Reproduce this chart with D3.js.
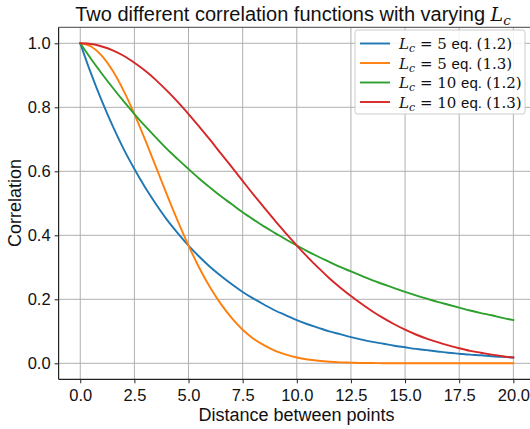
<!DOCTYPE html>
<html>
<head>
<meta charset="utf-8">
<script src="https://cdn.jsdelivr.net/npm/d3@7"></script>
<style>
  html, body { margin: 0; padding: 0; background: #fff; }
  svg { display: block; }
  .sans { font-family: "Liberation Sans", "DejaVu Sans", sans-serif; }
  .math { font-family: "DejaVu Serif", "Liberation Serif", serif; }
</style>
</head>
<body>
<div id="chart"></div>
<script>
// Distance between points (x values shared by all curves)
const distance = [0, 0.5, 1, 1.5, 2, 2.5, 3, 3.5, 4, 4.5, 5, 5.5, 6, 6.5, 7, 7.5, 8, 8.5, 9, 9.5,
  10, 10.5, 11, 11.5, 12, 12.5, 13, 13.5, 14, 14.5, 15, 15.5, 16, 16.5, 17, 17.5, 18, 18.5, 19, 19.5, 20];

// Lc = 5, eq. (1.2)
const lc5Eq12 = [1.000, 0.905, 0.819, 0.741, 0.670, 0.607, 0.549, 0.497, 0.449, 0.407, 0.368, 0.333, 0.301, 0.273,
  0.247, 0.223, 0.202, 0.183, 0.165, 0.150, 0.135, 0.122, 0.111, 0.100, 0.091, 0.082, 0.074, 0.067, 0.061, 0.055,
  0.050, 0.045, 0.041, 0.037, 0.033, 0.030, 0.027, 0.025, 0.022, 0.020, 0.018];

// Lc = 5, eq. (1.3)
const lc5Eq13 = [1.000, 0.990, 0.961, 0.914, 0.852, 0.779, 0.698, 0.613, 0.527, 0.445, 0.368, 0.298, 0.237, 0.185,
  0.141, 0.105, 0.077, 0.056, 0.039, 0.027, 0.018, 0.012, 0.008, 0.005, 0.003, 0.002, 0.001, 0.001, 0.000, 0.000,
  0.000, 0.000, 0.000, 0.000, 0.000, 0.000, 0.000, 0.000, 0.000, 0.000, 0.000];

// Lc = 10, eq. (1.2)
const lc10Eq12 = [1.000, 0.951, 0.905, 0.861, 0.819, 0.779, 0.741, 0.705, 0.670, 0.638, 0.607, 0.577, 0.549, 0.522,
  0.497, 0.472, 0.449, 0.427, 0.407, 0.387, 0.368, 0.350, 0.333, 0.317, 0.301, 0.287, 0.273, 0.259, 0.247, 0.235,
  0.223, 0.212, 0.202, 0.192, 0.183, 0.174, 0.165, 0.157, 0.150, 0.142, 0.135];

// Lc = 10, eq. (1.3)
const lc10Eq13 = [1.000, 0.998, 0.990, 0.978, 0.961, 0.939, 0.914, 0.885, 0.852, 0.817, 0.779, 0.739, 0.698, 0.655,
  0.613, 0.570, 0.527, 0.486, 0.445, 0.406, 0.368, 0.332, 0.298, 0.266, 0.237, 0.210, 0.185, 0.162, 0.141, 0.122,
  0.105, 0.090, 0.077, 0.066, 0.056, 0.047, 0.039, 0.033, 0.027, 0.022, 0.018];

// Legend entries: Lc value and equation number
const legendLc = ["5", "5", "10", "10"];
const legendEq = ["(1.2)", "(1.3)", "(1.2)", "(1.3)"];
const seriesColors = ["#1f77b4", "#ff7f0e", "#2ca02c", "#d62728"];

const xTicks = [0, 2.5, 5, 7.5, 10, 12.5, 15, 17.5, 20];
const yTicks = [0, 0.2, 0.4, 0.6, 0.8, 1.0];

const W = 530, H = 429;
const plot = { left: 58.6, right: 535, top: 27.3, bottom: 379.3 };

const svg = d3.select("#chart").append("svg").attr("width", W).attr("height", H);

const x = d3.scaleLinear().domain([-1, 21]).range([plot.left, plot.right]);
const y = d3.scaleLinear().domain([-0.05, 1.05]).range([plot.bottom, plot.top]);

// grid
const grid = svg.append("g").attr("stroke", "#b0b0b0").attr("stroke-width", 1);
xTicks.forEach(t => grid.append("line")
  .attr("x1", x(t)).attr("x2", x(t)).attr("y1", plot.top).attr("y2", plot.bottom));
yTicks.forEach(t => grid.append("line")
  .attr("x1", plot.left).attr("x2", plot.right).attr("y1", y(t)).attr("y2", y(t)));

// curves
const series = [lc5Eq12, lc5Eq13, lc10Eq12, lc10Eq13];
const line = d3.line().x(d => x(d[0])).y(d => y(d[1])).curve(d3.curveMonotoneX);
svg.append("clipPath").attr("id", "plotclip").append("rect")
  .attr("x", plot.left).attr("y", plot.top)
  .attr("width", plot.right - plot.left).attr("height", plot.bottom - plot.top);
series.forEach((vals, i) => {
  svg.append("path")
    .attr("clip-path", "url(#plotclip)")
    .attr("d", line(distance.map((d, j) => [d, vals[j]])))
    .attr("fill", "none")
    .attr("stroke", seriesColors[i])
    .attr("stroke-width", 1.9)
    .attr("stroke-linejoin", "round")
    .attr("stroke-linecap", "square");
});

// axes
const xAxis = d3.axisBottom(x).tickValues(xTicks).tickFormat(d3.format(".1f")).tickSizeOuter(0).tickSize(4).tickPadding(6);
const yAxis = d3.axisLeft(y).tickValues(yTicks).tickFormat(d3.format(".1f")).tickSizeOuter(0).tickSize(4).tickPadding(4);

const gx = svg.append("g").attr("transform", `translate(0,${plot.bottom})`).call(xAxis);
const gy = svg.append("g").attr("transform", `translate(${plot.left},0)`).call(yAxis);
[gx, gy].forEach(g => {
  g.select(".domain").remove();
  g.selectAll(".tick line").attr("stroke", "#222").attr("stroke-width", 1);
  g.selectAll(".tick text").attr("class", "sans").attr("font-size", 16.5).attr("fill", "#111");
});

// spines
svg.append("line").attr("x1", plot.left).attr("x2", plot.left).attr("y1", plot.top).attr("y2", plot.bottom)
  .attr("stroke", "#222").attr("stroke-width", 1.2);
svg.append("line").attr("x1", plot.left).attr("x2", plot.right).attr("y1", plot.bottom).attr("y2", plot.bottom)
  .attr("stroke", "#222").attr("stroke-width", 1.2);
svg.append("line").attr("x1", plot.left).attr("x2", plot.right).attr("y1", plot.top).attr("y2", plot.top)
  .attr("stroke", "#444").attr("stroke-width", 1);

// axis labels
svg.append("text").attr("class", "sans").attr("x", 296.5).attr("y", 421)
  .attr("text-anchor", "middle").attr("font-size", 18).attr("fill", "#111")
  .text("Distance between points");
svg.append("text").attr("class", "sans")
  .attr("transform", `translate(21,203) rotate(-90)`)
  .attr("text-anchor", "middle").attr("font-size", 18).attr("fill", "#111")
  .text("Correlation");

// title
const title = svg.append("text").attr("x", 293).attr("y", 21)
  .attr("text-anchor", "middle").attr("font-size", 20).attr("fill", "#111");
title.append("tspan").attr("class", "sans").text("Two different correlation functions with varying ");
title.append("tspan").attr("class", "math").attr("font-style", "italic").attr("font-size", 19).text("L");
title.append("tspan").attr("class", "math").attr("font-style", "italic").attr("font-size", 13.5).attr("dy", 4).text("c");

// legend
const lg = svg.append("g");
lg.append("rect").attr("x", 355).attr("y", 30).attr("width", 170).attr("height", 84).attr("rx", 2.5)
  .attr("fill", "#fff").attr("fill-opacity", 0.85).attr("stroke", "#ccc").attr("stroke-width", 1);
series.forEach((vals, i) => {
  const cy = 43.5 + i * 19.5;
  lg.append("line").attr("x1", 360).attr("x2", 390).attr("y1", cy).attr("y2", cy)
    .attr("stroke", seriesColors[i]).attr("stroke-width", 1.9);
  const t = lg.append("text").attr("x", 399).attr("y", cy + 5.5).attr("font-size", 15).attr("fill", "#111");
  t.append("tspan").attr("class", "math").attr("font-style", "italic").text("L");
  t.append("tspan").attr("class", "math").attr("font-style", "italic").attr("font-size", 11).attr("dy", 3).text("c");
  t.append("tspan").attr("class", "math").attr("dy", -3).text(" = " + legendLc[i] + " ");
  t.append("tspan").attr("class", "sans").attr("font-size", 15).text("eq. ");
  t.append("tspan").attr("class", "math").text(legendEq[i]);
});
</script>
</body>
</html>
